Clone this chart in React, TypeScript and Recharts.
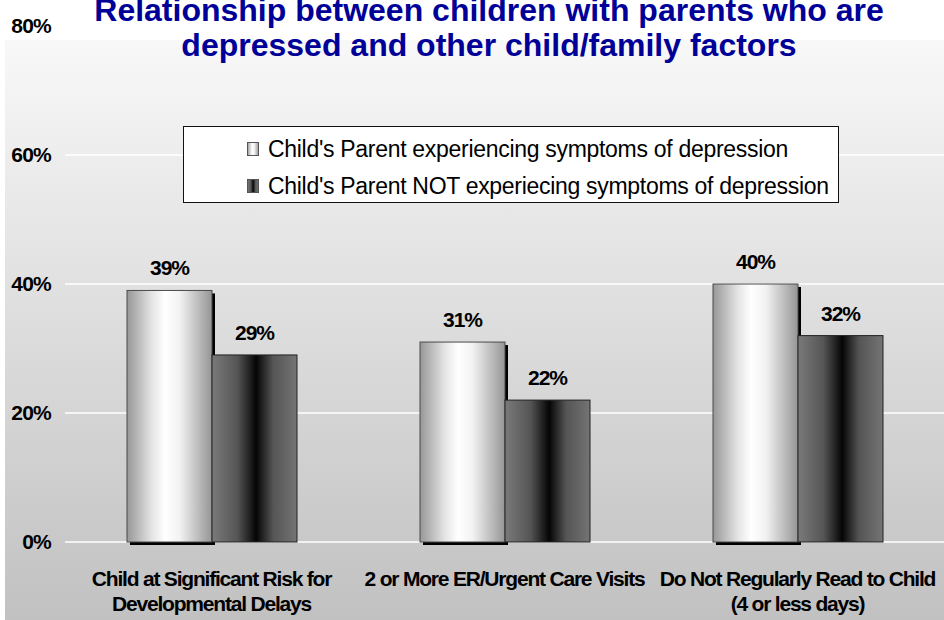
import * as React from 'react'
import { Bar, BarChart, CartesianGrid, LabelList, XAxis, YAxis } from 'recharts'

// categories as shown under the x axis, "\n" marks the line break
const categories = [
  'Child at Significant Risk for\nDevelopmental Delays',
  '2 or More ER/Urgent Care Visits',
  'Do Not Regularly Read to Child\n(4 or less days)',
]
const depressedPct = [39, 31, 40]
const notDepressedPct = [29, 22, 32]
const yTicks = [0, 20, 40, 60, 80]

const seriesNames = [
  "Child's Parent experiencing symptoms of depression",
  "Child's Parent NOT experiecing symptoms of depression",
]

const titleLines = [
  'Relationship between children with parents who are',
  'depressed and other child/family factors',
]

const data = categories.map((c, i) => ({
  category: c,
  depressed: depressedPct[i],
  notDepressed: notDepressedPct[i],
}))

const FONT = '"Liberation Sans", Arial, sans-serif'

const LightStops = () => (
  <>
    <stop offset="0%" stopColor="#979797" />
    <stop offset="30%" stopColor="#e6e6e6" />
    <stop offset="45%" stopColor="#ffffff" />
    <stop offset="62%" stopColor="#f2f2f2" />
    <stop offset="100%" stopColor="#959595" />
  </>
)

const DarkStops = () => (
  <>
    <stop offset="0%" stopColor="#7a7a7a" />
    <stop offset="30%" stopColor="#555555" />
    <stop offset="52%" stopColor="#050505" />
    <stop offset="72%" stopColor="#555555" />
    <stop offset="100%" stopColor="#747474" />
  </>
)

// light bars carry a small black drop shadow
function LightBar(props: any) {
  const { x, y, width, height } = props
  if (!height) return null
  return (
    <g>
      <rect x={x + 3} y={y + 3} width={width} height={height} fill="#000" />
      <rect x={x} y={y} width={width} height={height} fill="url(#gLight)" stroke="#4a4a4a" strokeWidth={1} />
    </g>
  )
}

function DarkBar(props: any) {
  const { x, y, width, height } = props
  if (!height) return null
  return <rect x={x} y={y} width={width} height={height} fill="url(#gDark)" stroke="#222" strokeWidth={1} />
}

function CategoryTick(props: any) {
  const { x, y, payload } = props
  const lines = String(payload.value).split('\n')
  return (
    <text
      x={x}
      y={y + 42}
      textAnchor="middle"
      fontFamily={FONT}
      fontWeight="bold"
      fontSize={21}
      letterSpacing={-1.2}
      fill="#000"
    >
      {lines.map((l, i) => (
        <tspan key={i} x={x} dy={i === 0 ? 0 : 25}>
          {l}
        </tspan>
      ))}
    </text>
  )
}

// legend sits inside the plot, drawn as an overlay so it doesn't shrink the plot area
function LegendBox() {
  return (
    <svg width={656} height={77} style={{ position: 'absolute', left: 183, top: 126 }}>
      <defs>
        <linearGradient id="lgLight" x1="0" y1="0" x2="1" y2="0">
          <LightStops />
        </linearGradient>
        <linearGradient id="lgDark" x1="0" y1="0" x2="1" y2="0">
          <DarkStops />
        </linearGradient>
      </defs>
      <rect x={0.5} y={0.5} width={655} height={76} fill="#fff" stroke="#111" />
      {seriesNames.map((name, i) => (
        <g key={name}>
          <rect
            x={64.5}
            y={16.5 + i * 37}
            width={11}
            height={13}
            fill={i === 0 ? 'url(#lgLight)' : 'url(#lgDark)'}
            stroke="#555"
          />
          <text x={85} y={31 + i * 37} fontFamily={FONT} fontSize={23} letterSpacing={-0.3} fill="#000">
            {name}
          </text>
        </g>
      ))}
    </svg>
  )
}

export default function App() {
  return (
    <div style={{ position: 'absolute', left: 0, top: 0, width: 944, height: 620, background: '#fff', overflow: 'hidden' }}>
      <div
        style={{
          position: 'absolute',
          left: 5,
          top: 40,
          right: 0,
          bottom: 0,
          background: 'linear-gradient(#f8f8f8, #c1c1c1)',
        }}
      />
      <div style={{ position: 'absolute', left: 0, top: 0 }}>
        <BarChart
          width={944}
          height={620}
          data={data}
          margin={{ top: 26, right: 0, bottom: 0, left: 0 }}
          barCategoryGap={62}
          barGap={0}
        >
          <defs>
            <linearGradient id="gLight" x1="0" y1="0" x2="1" y2="0">
              <LightStops />
            </linearGradient>
            <linearGradient id="gDark" x1="0" y1="0" x2="1" y2="0">
              <DarkStops />
            </linearGradient>
          </defs>
          <CartesianGrid vertical={false} stroke="#ffffff" strokeWidth={1.5} />
          <XAxis
            dataKey="category"
            height={78}
            axisLine={false}
            tickLine={false}
            tickSize={0}
            interval={0}
            tick={<CategoryTick />}
          />
          <YAxis
            width={65}
            domain={[0, 80]}
            ticks={yTicks}
            axisLine={false}
            tickLine={false}
            tickSize={0}
            tickMargin={14}
            tickFormatter={(v: number) => `${v}%`}
            tick={{ fontFamily: FONT, fontWeight: 'bold', fontSize: 21, fill: '#000', letterSpacing: -0.8 }}
          />
          <Bar dataKey="depressed" name={seriesNames[0]} shape={<LightBar />} isAnimationActive={false}>
            <LabelList
              dataKey="depressed"
              position="top"
              offset={15}
              formatter={(v: any) => `${v}%`}
              style={{ fontFamily: FONT, fontWeight: 'bold', fontSize: 21, fill: '#000', letterSpacing: -1 }}
            />
          </Bar>
          <Bar dataKey="notDepressed" name={seriesNames[1]} shape={<DarkBar />} isAnimationActive={false}>
            <LabelList
              dataKey="notDepressed"
              position="top"
              offset={15}
              formatter={(v: any) => `${v}%`}
              style={{ fontFamily: FONT, fontWeight: 'bold', fontSize: 21, fill: '#000', letterSpacing: -1 }}
            />
          </Bar>
        </BarChart>
      </div>
      <LegendBox />
      <svg width={944} height={70} style={{ position: 'absolute', left: 0, top: 0, pointerEvents: 'none' }}>
        {titleLines.map((t, i) => (
          <text
            key={t}
            x={489}
            y={21 + i * 35}
            textAnchor="middle"
            fontFamily={FONT}
            fontWeight="bold"
            fontSize={32}
            fill="#000099"
          >
            {t}
          </text>
        ))}
      </svg>
    </div>
  )
}
